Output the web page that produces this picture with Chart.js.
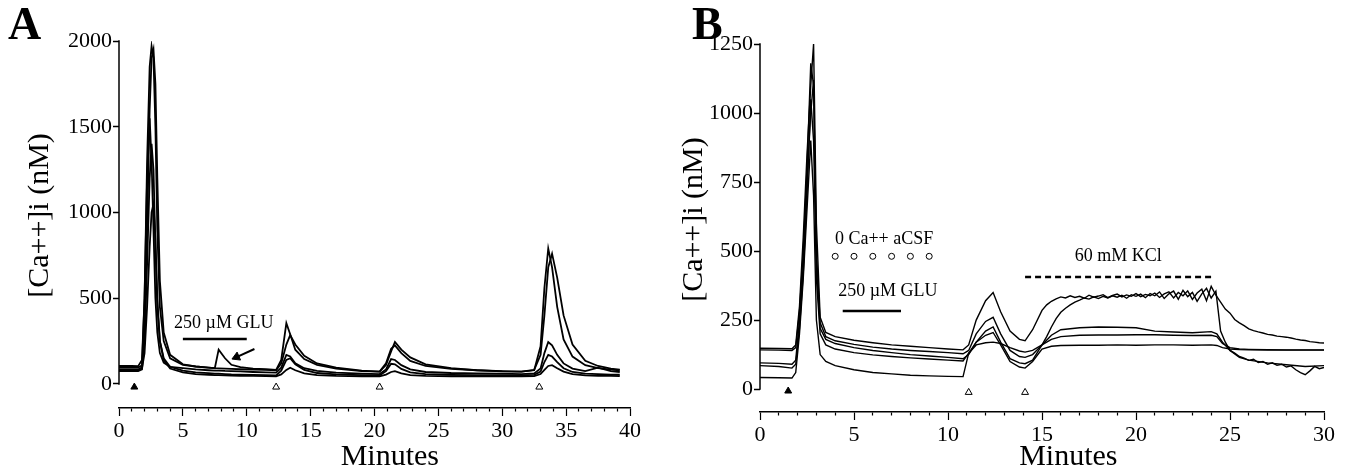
<!DOCTYPE html>
<html>
<head>
<meta charset="utf-8">
<script src="https://cdn.jsdelivr.net/npm/chart.js@4.4.1/dist/chart.umd.min.js"></script>
<style>
html,body{margin:0;padding:0;background:#fff;width:1351px;height:475px;overflow:hidden}
#wrap{position:relative;width:1351px;height:475px}
canvas{position:absolute;top:0}
#cA{left:0}
#cB{left:676px}
.lbl{position:absolute;top:1px;font:bold 46px "Liberation Serif",serif;line-height:1;color:#000}
</style>
</head>
<body>
<div id="wrap">
<canvas id="cA" width="676" height="475"></canvas>
<canvas id="cB" width="675" height="475"></canvas>
<div class="lbl" style="left:8px">A</div>
<div class="lbl" style="left:692px">B</div>
</div>
<script>
const SERIF = '"Liberation Serif", "Times New Roman", serif';

// ---- panel A : [Ca++]i (nM) of 5 cells vs time (min)
const timeA = [0, 1, 1.5, 1.8, 2.0,
  2.2, 2.4, 2.55, 2.7, 2.85,
  3.0, 3.2, 3.5, 4.0, 5,
  6, 7, 7.5, 7.8, 8.3,
  8.8, 9.5, 10.5, 11.5, 12.3,
  12.7, 13.1, 13.4, 13.8, 14.5,
  15.5, 17, 19, 20.4, 20.9,
  21.3, 21.6, 22.1, 22.8, 24,
  26, 28, 30, 31.5, 32.5,
  33.0, 33.3, 33.6, 33.9, 34.3,
  34.8, 35.5, 36.5, 37.5, 38.5,
  39.2];
const cellA1 = [105,105,104,140,500, 1300,1850,1970,1900,1500, 900,450,250,150,112, 102,96,92,200,150,
  112,98,90,86,82, 140,355,290,200,145, 112,90,75,72,120, 205,225,180,135,105,
  88,80,75,72,80, 220,560,790,680,450, 260,160,110,92,84, 80];
const cellA2 = [95,95,95,110,300, 900,1600,1900,1950,1750, 1200,600,300,170,115, 102,95,92,91,90,
  88,86,84,82,80, 120,230,285,230,165, 120,95,78,72,110, 190,245,200,155,115,
  92,80,74,72,82, 170,400,680,760,620, 400,230,135,105,90, 84];
const cellA3 = [80,80,80,100,500, 1200,1550,1300,900,500, 300,180,125,100,92, 85,80,78,78,76,
  75,73,70,68,66, 95,170,160,120,92, 76,66,60,58,85, 145,140,110,85,70,
  64,62,60,58,62, 90,180,245,225,170, 120,90,75,95,75, 70];
const cellA4 = [75,75,75,85,250, 700,1200,1400,1250,800, 450,250,150,100,78, 68,63,61,60,58,
  56,55,53,52,50, 78,140,150,115,82, 64,56,52,50,75, 118,115,88,68,57,
  53,52,51,50,53, 72,128,170,160,128, 92,70,60,57,55, 54];
const cellA5 = [85,85,85,90,180, 450,800,1000,1050,850, 500,250,140,90,68, 58,54,52,52,50,
  49,48,47,46,45, 56,82,95,80,62, 52,47,45,44,55, 70,75,62,52,47,
  45,45,44,44,46, 58,82,105,110,92, 72,58,50,48,47, 46];
const yTicksA = [0, 500, 1000, 1500, 2000];
const xLabelsA = [0, 5, 10, 15, 20, 25, 30, 35, 40];
const stimA = [1.2];               // filled triangle
const washA = [12.3, 20.4, 32.9];  // open triangles
const gluA = [5, 10];              // 250 uM GLU bar
const arrowA = [{x: 10.6, y: 204}, {x: 9.2, y: 157}];

// ---- panel B
const timeBEarly = [0, 1, 1.7, 1.9, 2.1,
  2.3, 2.5, 2.7, 2.85, 3.0,
  3.2, 3.5, 4, 5, 6,
  7, 8, 9, 10, 10.8,
  11.1, 11.5, 12.0, 12.4, 12.8,
  13.3, 13.8, 14.1, 14.5];
const timeBFine = [15, 15.25, 15.5, 15.75, 16, 16.25, 16.5, 16.75, 17, 17.25, 17.5, 17.75,
  18, 18.25, 18.5, 18.75, 19, 19.25, 19.5, 19.75, 20, 20.25, 20.5, 20.75,
  21, 21.25, 21.5, 21.75, 22, 22.25, 22.5, 22.75, 23, 23.25, 23.5, 23.75,
  24, 24.25, 24.5, 24.75, 25, 25.25, 25.5, 25.75, 26, 26.25, 26.5, 26.75,
  27, 27.25, 27.5, 27.75, 28, 28.25, 28.5, 28.75, 29, 29.25, 29.5, 29.75, 30];
const timeBCoarse = [15, 15.5, 16, 17, 18, 19, 20, 21, 22, 23, 24, 24.3, 24.6, 25, 25.5, 26, 27, 28, 29, 30];

const cellB1 = [148,147,146,160,300, 550,850,1100,1250,600, 260,205,190,177,168, 160,155,150,145,142,
  160,250,320,350,280, 210,180,175,215,
  285,305,318,327, 334,330,338,332, 336,329,340,333, 337,342,331,339,
  344,334,341,336, 346,335,343,338, 348,332,345,352, 330,350,338,356,
  325,348,362,320, 372,340,315,290, 275,252,240,230, 218,212,207,203,
  198,196,192,190, 188,185,181,178, 176,172,170,168, 167];
const cellB2 = [142,141,140,150,280, 500,800,1180,1100,500, 240,190,175,162,152, 145,140,136,132,128,
  140,200,245,260,200, 140,118,115,125,
  160,190,225,255, 278,293,305,315, 322,330,326,334, 328,336,330,338,
  333,340,329,342, 336,344,331,346, 338,352,328,345, 355,325,358,335,
  350,318,345,365, 330,355,210,170, 140,130,118,112, 104,108,96,100,
  90,95,86,90, 80,84,70,60, 52,66,82,74, 78];
const cellB3 = [95,93,90,105,250, 450,750,1000,1120,450, 220,180,165,150,140, 132,125,120,115,110,
  125,170,210,225,170, 110,95,92,105,
  160,195,215,222,225, 224,222,210,207,204, 208,200,170,140,115, 105,95,88,82,85];
const cellB4 = [85,82,76,90,220, 420,700,1050,900,400, 200,160,145,132,124, 118,113,109,105,102,
  130,160,168,170,165, 150,138,134,140,
  160,180,190,195,196, 196,197,197,195,194, 195,190,165,150,145, 144,143,142,142,142];
const cellB5 = [42,41,40,60,200, 400,650,900,700,250, 125,100,85,70,60, 55,50,48,46,45,
  130,170,195,205,160, 100,80,76,100,
  145,155,158,159,159, 160,159,160,160,159, 160,158,150,145,143, 142,141,141,141,141];
const yTicksB = [0, 250, 500, 750, 1000, 1250];
const xLabelsB = [0, 5, 10, 15, 20, 25, 30];
const stimB = [1.5];
const washB = [11.1, 14.1];
const noCaB = [4, 5, 6, 7, 8, 9];  // 0 Ca++ aCSF circles
const gluB = [4.4, 7.5];
const kclB = [14.1, 24.2];

function pts(xs, ys) { return xs.map((x, i) => ({x: x, y: ys[i]})); }
function trace(xs, ys, w) {
  return {data: pts(xs, ys), borderColor: '#000', borderWidth: w, pointRadius: 0, tension: 0, fill: false};
}
function marks(xs, y, fill, style, r) {
  return {data: xs.map(x => ({x: x, y: y})), showLine: false, pointStyle: style || 'triangle',
    pointRadius: r || 4, backgroundColor: fill, borderColor: '#000', borderWidth: 1};
}
function bar(xs, y, w, dash) {
  return {data: xs.map(x => ({x: x, y: y})), borderColor: '#000', borderWidth: w, borderDash: dash || [],
    pointRadius: 0, fill: false};
}
function arrow(p, angle) {
  return [
    {data: p, borderColor: '#000', borderWidth: 2, pointRadius: 0, fill: false},
    {data: [p[p.length - 1]], showLine: false, pointStyle: 'triangle', rotation: angle, pointRadius: 5,
      backgroundColor: '#000', borderColor: '#000', borderWidth: 1}
  ];
}

const decor = {
  id: 'decor',
  afterDraw(chart, args, o) {
    const {ctx, chartArea: a, scales: {x, y}} = chart;
    ctx.save();
    // y axis only runs from 0 to the top tick
    ctx.strokeStyle = '#000';
    ctx.lineWidth = 1.5;
    ctx.beginPath();
    ctx.moveTo(a.left, y.getPixelForValue(0) + 0.75);
    ctx.lineTo(a.left, y.getPixelForValue(y.max) - 0.75);
    ctx.stroke();
    ctx.fillStyle = '#000';
    ctx.textAlign = 'center';
    ctx.textBaseline = 'middle';
    ctx.font = '18px ' + SERIF;
    o.notes.forEach(n => ctx.fillText(n.text, x.getPixelForValue(n.x), y.getPixelForValue(n.y)));
    ctx.font = '30px ' + SERIF;
    ctx.fillText('Minutes', x.getPixelForValue(o.xTitleAt), o.xTitleY);
    ctx.translate(o.yTitleX, (y.getPixelForValue(0) + y.getPixelForValue(y.max)) / 2 + 3);
    ctx.rotate(-Math.PI / 2);
    ctx.fillText('[Ca++]i (nM)', 0, 0);
    ctx.restore();
  }
};

function panel(id, cfg) {
  const minutes = [];
  for (let i = 0; i <= cfg.xMax; i++) minutes.push(i);
  return new Chart(document.getElementById(id), {
    type: 'line',
    data: {datasets: cfg.datasets},
    options: {
      responsive: false, animation: false, events: [],
      layout: {padding: {top: cfg.top, right: cfg.right, left: 0, bottom: 0}},
      plugins: {legend: {display: false}, tooltip: {enabled: false}, decor: cfg.decor},
      scales: {
        x: {
          type: 'linear', min: 0, max: cfg.xMax,
          border: {display: true, color: '#000', width: 1.5},
          grid: {drawOnChartArea: false, tickLength: 8, tickWidth: 1.2, tickColor: '#000',
            tickBorderDash: c => (c.tick && cfg.xLabels.includes(c.tick.value)) ? [] : [3, 40]},
          afterBuildTicks: s => { s.ticks = minutes.map(v => ({value: v})); },
          ticks: {autoSkip: false, maxRotation: 0, padding: 2, color: '#000',
            font: {family: SERIF, size: 22},
            callback: v => cfg.xLabels.includes(v) ? String(v) : ''},
          afterFit: s => { s.height = cfg.xH; }
        },
        y: {
          type: 'linear', min: cfg.yMin, max: cfg.yMax,
          border: {display: false},
          grid: {drawOnChartArea: false, tickLength: 6, tickWidth: 1.5, tickColor: '#000'},
          afterBuildTicks: s => { s.ticks = cfg.yTicks.map(v => ({value: v})); },
          ticks: {padding: 1, color: '#000', font: {family: SERIF, size: 22}, callback: v => String(v)},
          afterFit: s => { s.width = cfg.yW; }
        }
      }
    },
    plugins: [decor]
  });
}

panel('cA', {
  xMax: 40, yMin: -140, yMax: 2000, top: 41, right: 46, xH: 67, yW: 119,
  yTicks: yTicksA, xLabels: xLabelsA,
  datasets: [
    trace(timeA, cellA5, 1.8), trace(timeA, cellA4, 1.8), trace(timeA, cellA3, 1.8),
    trace(timeA, cellA2, 1.8), trace(timeA, cellA1, 1.8),
    marks(stimA, -18, '#000'), marks(washA, -18, '#fff'),
    bar(gluA, 262, 2.5)
  ].concat(arrow(arrowA, 246.5)),
  decor: {notes: [{text: '250 µM GLU', x: 8.2, y: 352}], xTitleAt: 21.2, xTitleY: 457, yTitleX: 40}
});

panel('cB', {
  xMax: 30, yMin: -83, yMax: 1250, top: 44, right: 27, xH: 63, yW: 84,
  yTicks: yTicksB, xLabels: xLabelsB,
  datasets: [
    trace(timeBEarly.concat(timeBCoarse), cellB5, 1.4),
    trace(timeBEarly.concat(timeBCoarse), cellB4, 1.4),
    trace(timeBEarly.concat(timeBCoarse), cellB3, 1.4),
    trace(timeBEarly.concat(timeBFine), cellB2, 1.4),
    trace(timeBEarly.concat(timeBFine), cellB1, 1.4),
    marks(stimB, -7, '#000'), marks(washB, -12, '#fff'),
    marks(noCaB, 481, '#fff', 'circle', 3),
    bar(gluB, 283, 2.5),
    bar(kclB, 406, 2.5, [6, 4])
  ],
  decor: {notes: [{text: '0 Ca++ aCSF', x: 6.6, y: 543}, {text: '250 µM GLU', x: 6.8, y: 353},
    {text: '60 mM KCl', x: 19.05, y: 482}], xTitleAt: 16.4, xTitleY: 457, yTitleX: 18}
});
</script>
</body>
</html>
